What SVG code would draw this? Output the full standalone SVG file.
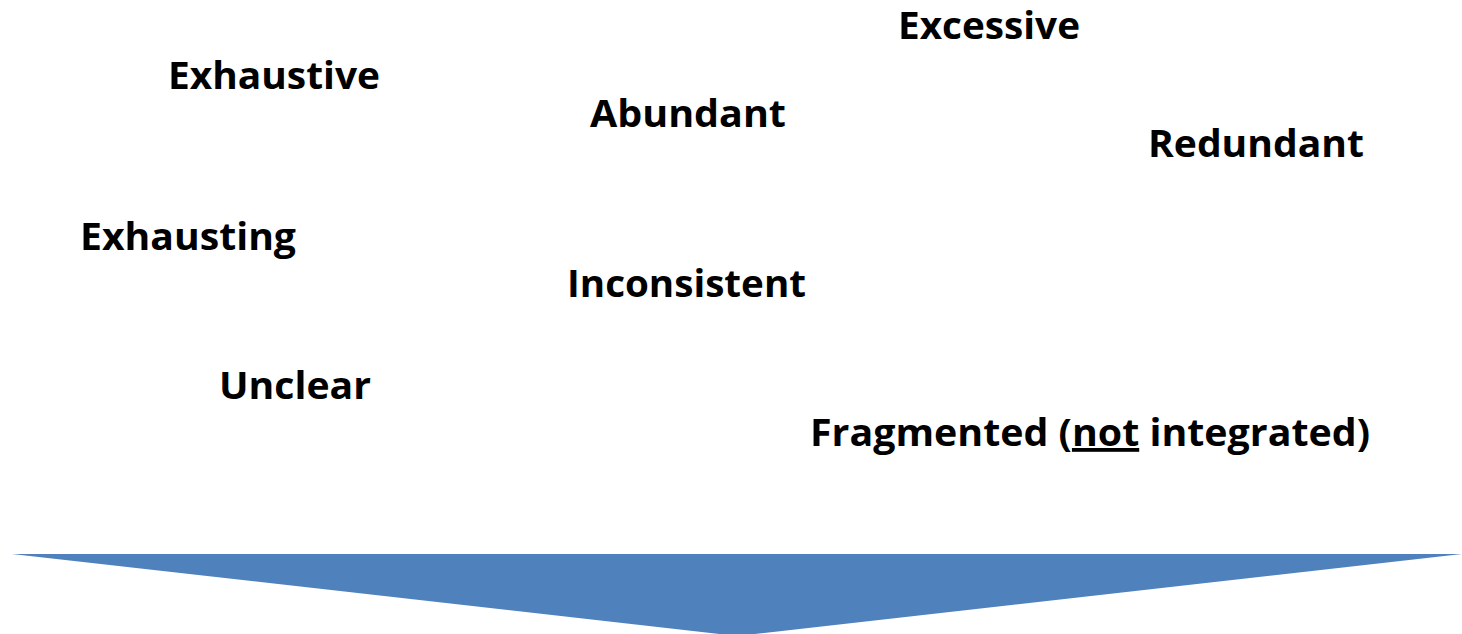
<svg xmlns="http://www.w3.org/2000/svg" width="1462" height="634" viewBox="0 0 1462 634">
  <style>
    .w { font-family: "Open Sans", "Liberation Sans", sans-serif; font-weight: 700; font-size: 38px; fill: #000000; }
    .arrow { fill: #4F81BD; }
  </style>
  <rect width="1462" height="634" fill="#ffffff"/>
  <g id="excessive"><text class="w" x="898" y="39" textLength="182" lengthAdjust="spacingAndGlyphs">Excessive</text></g>
  <g id="exhaustive"><text class="w" x="168" y="89" textLength="212" lengthAdjust="spacingAndGlyphs">Exhaustive</text></g>
  <g id="abundant"><text class="w" x="590" y="127" textLength="196" lengthAdjust="spacingAndGlyphs">Abundant</text></g>
  <g id="redundant"><text class="w" x="1148" y="157" textLength="216" lengthAdjust="spacingAndGlyphs">Redundant</text></g>
  <g id="exhausting"><text class="w" x="80" y="250" textLength="216" lengthAdjust="spacingAndGlyphs">Exhausting</text></g>
  <g id="inconsistent"><text class="w" x="567" y="297" textLength="239" lengthAdjust="spacingAndGlyphs">Inconsistent</text></g>
  <g id="unclear"><text class="w" x="219" y="399" textLength="152" lengthAdjust="spacingAndGlyphs">Unclear</text></g>
  <g id="fragmented"><text class="w" x="810" y="446" textLength="560" lengthAdjust="spacingAndGlyphs">Fragmented (<tspan text-decoration="underline">not</tspan> integrated)</text></g>
  <g id="arrow"><polygon class="arrow" points="12,554 1462,554 737,636"/></g>
</svg>
